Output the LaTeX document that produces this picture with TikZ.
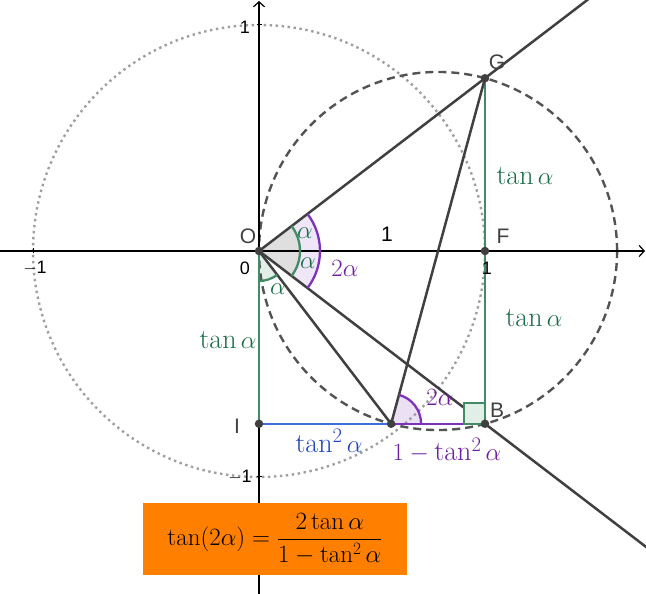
\documentclass[tikz,border=0pt]{standalone}
\usepackage{fontspec}
\newfontfamily\lab{Liberation Sans}
\usetikzlibrary{arrows.meta,calc}
\definecolor{gtext}{RGB}{25,110,70}
\definecolor{gline}{RGB}{65,140,100}
\definecolor{ptext}{RGB}{110,30,160}
\definecolor{pline}{RGB}{125,50,190}
\definecolor{btext}{RGB}{30,70,190}
\definecolor{bline}{RGB}{60,110,220}
\definecolor{dk}{RGB}{64,64,64}
\definecolor{ggorange}{RGB}{255,128,0}
\begin{document}
\begin{tikzpicture}[x=1pt,y=1pt,
  axis/.style={line width=1.2pt,black},
  geo/.style={line width=2.5pt,dk},
  gseg/.style={line width=2.3pt,gline},
  pt/.style={circle,fill=dk,inner sep=0pt,minimum size=8.5pt},
  plab/.style={font=\lab\fontsize{21}{24}\selectfont,text=dk,inner sep=0pt},
  alab/.style={font=\lab\fontsize{18}{20}\selectfont,text=black,inner sep=0pt},
  mlab/.style={font=\fontsize{28}{32}\selectfont,inner sep=0pt}]
\useasboundingbox (0,0) rectangle (646,594);
\clip (0,0) rectangle (646,594);
\pgfmathsetmacro{\u}{226}
\pgfmathsetmacro{\al}{37.4}
\pgfmathsetmacro{\ta}{tan(\al)}
\pgfmathsetmacro{\tsq}{\ta*\ta}
\pgfmathsetmacro{\cx}{(1+\tsq)/2}
\coordinate (O) at (259,343);
\coordinate (G) at ($(O)+(\u,\u*\ta)$);
\coordinate (F) at ($(O)+(\u,0)$);
\coordinate (B) at ($(O)+(\u,-\u*\ta)$);
\coordinate (I) at ($(O)+(0,-\u*\ta)$);
\coordinate (P) at ($(O)+(\u*\tsq,-\u*\ta)$);
\coordinate (C) at ($(O)+(\u*\cx,0)$);
% angle fills
\fill[pline!12] (O) -- ++(\al:61) arc[start angle=\al,end angle=-\al,radius=61] -- cycle;
\fill[gray!25] (O) -- ++(\al:41) arc[start angle=\al,end angle=-\al,radius=41] -- cycle;
\fill[gline!15] (O) -- ++(-90:30) arc[start angle=-90,end angle=-90+\al,radius=30] -- cycle;
\fill[pline!15] (P) -- ++(0:30) arc[start angle=0,end angle=2*\al,radius=30] -- cycle;
% circles
\draw[gray!75,line width=2.4pt,dash pattern=on 2.4pt off 3.6pt] (O) circle[radius=\u];
\draw[dk!90,line width=2.4pt,dash pattern=on 8pt off 5pt] (C) circle[radius=\u*\cx];
% axes
\coordinate (xl) at (0,343); \coordinate (xr) at (645,343);
\coordinate (yb) at (259,0); \coordinate (yt) at (259,593);
\draw[axis,-{Straight Barb[length=5pt,width=11pt]}] (xl) -- (xr);
\draw[axis,-{Straight Barb[length=5pt,width=11pt]}] (yb) -- (yt);
\foreach \k in {-1,1}{
  \draw[line width=1pt] ($(O)+(\k*\u,-2.5)$) -- ($(O)+(\k*\u,2.5)$);
  \draw[line width=1pt] ($(O)+(-2.5,\k*\u)$) -- ($(O)+(2.5,\k*\u)$);
}
% segments
\draw[line width=2.5pt,black] (O) -- (F);
\draw[gseg] (G) -- (F);
\draw[gseg] (F) -- (B);
\draw[gseg] (O) -- (I);
\draw[line width=2.3pt,bline] (I) -- (P);
\draw[line width=2.3pt,pline] (P) -- (B);
\draw[geo] (O) -- ($(O)!4!(G)$);
\draw[geo] (O) -- ($(O)!4!(B)$);
\draw[geo] (O) -- (P);
\draw[geo] (P) -- (G);
% right angle
\draw[gline,line width=1.8pt,fill=gline!15] ($(B)+(-21,0)$) rectangle ($(B)+(0,21)$);
% arcs
\draw[pline,line width=2.3pt] ($(O)+(\al:61)$) arc[start angle=\al,end angle=-\al,radius=61];
\draw[gline,line width=2.3pt] ($(O)+(\al:41)$) arc[start angle=\al,end angle=-\al,radius=41];
\draw[gline,line width=2.3pt] ($(O)+(-90:30)$) arc[start angle=-90,end angle=-90+\al,radius=30];
\draw[pline,line width=2.3pt] ($(P)+(0:30)$) arc[start angle=0,end angle=2*\al,radius=30];
% points
\foreach \p in {O,G,F,B,I,P} \node[pt] (d\p) at (\p) {};
% orange box
\node[fill=ggorange,minimum width=264pt,minimum height=72pt,inner sep=0pt,font=\fontsize{25}{28}\selectfont] (box) at (275,55)
  {$\displaystyle\tan(2\alpha)=\frac{2\tan\alpha}{1-\tan^2\alpha}$};
% labels
\node[plab] (lO) at (248,358) {O};
\node[plab] (lG) at (497,532) {G};
\node[plab] (lF) at (503,358) {F};
\node[plab] (lB) at (497,184) {B};
\node[plab] (lI) at (237,168) {I};
\node[alab] (a0) at (245,326) {0};
\node[alab] (a1) at (487,326) {1};
\node[alab] (am1) at (35,326) {$-$1};
\node[alab] (b1) at (245,567) {1};
\node[alab] (bm1) at (240,117) {$-$1};
\node[plab,text=black] (one) at (387,360) {1};
\node[mlab,text=gtext] (t1) at (525,418) {$\tan\alpha$};
\node[mlab,text=gtext] (t2) at (534,276) {$\tan\alpha$};
\node[mlab,text=gtext] (t3) at (228,254) {$\tan\alpha$};
\node[mlab,text=btext] (t4) at (329,153) {$\tan^2\alpha$};
\node[mlab,text=ptext] (t5) at (447,144) {$1-\tan^2\alpha$};
\node[mlab,text=ptext] (t6) at (440,197) {$2\alpha$};
\node[mlab,text=ptext] (t7) at (345,326) {$2\alpha$};
\node[mlab,text=gtext] (a7) at (305,361) {$\alpha$};
\node[mlab,text=gtext] (a8) at (308,331) {$\alpha$};
\node[mlab,text=gtext] (a9) at (278,305) {$\alpha$};
\end{tikzpicture}
\end{document}
